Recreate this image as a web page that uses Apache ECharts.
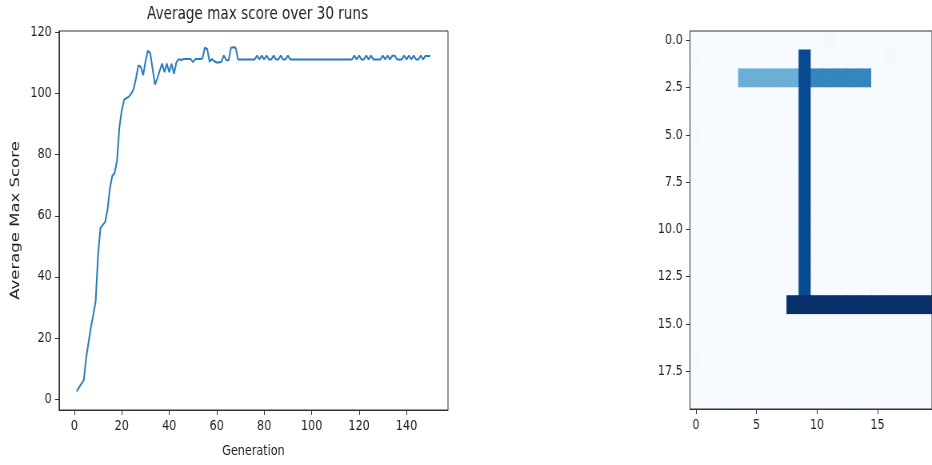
<!DOCTYPE html>
<html>
<head>
<meta charset="utf-8">
<script src="https://cdn.jsdelivr.net/npm/echarts@6/dist/echarts.min.js"></script>
<style>
  html, body { margin: 0; padding: 0; background: #fff; overflow: hidden; }
  #wrap { width: 932px; height: 465px; overflow: hidden; }
  /* the figure is laid out wide and narrowed horizontally */
  #chart { width: 1165px; height: 465px; transform: scaleX(0.8); transform-origin: 0 0; }
</style>
</head>
<body>
<div id="wrap"><div id="chart"></div></div>
<script>
// ---- learning curve: average max score per generation (generations 1..150)
const scores = [
  2.5, 3.8, 5.0, 6.2, 13.5, 18.5, 23.5, 27.5, 32, 47,
  56, 57, 58, 62, 69, 73, 74, 78, 89, 94.5,
  98, 98.5, 99, 100, 101.5, 105, 109.2, 108.8, 106, 110.5,
  114, 113.2, 108, 103, 105, 107.5, 109.8, 107, 109.8, 107,
  109.8, 106.5, 110.2, 111.3, 111, 111.3, 111.3, 111.3, 111.3, 110.3,
  111.3, 111.3, 111.3, 111.5, 115, 114.6, 110.4, 111.3, 110.6, 110.2,
  110.2, 110.4, 112.5, 111, 110.8, 115, 115.2, 115, 111.2, 111.2,
  111.2, 111.2, 111.2, 111.2, 111.2, 111.2, 112.4, 111.2, 112.4, 111.2,
  112.4, 111.2, 111.2, 112.4, 111.2, 111.2, 112.4, 111.2, 111.2, 112.4,
  111.2, 111.2, 111.2, 111.2, 111.2, 111.2, 111.2, 111.2, 111.2, 111.2,
  111.2, 111.2, 111.2, 111.2, 111.2, 111.2, 111.2, 111.2, 111.2, 111.2,
  111.2, 111.2, 111.2, 111.2, 111.2, 111.2, 111.2, 112.4, 111.2, 112.4,
  111.2, 111.2, 112.4, 111.2, 112.4, 111.2, 111.2, 111.2, 111.2, 112.4,
  111.2, 112.4, 111.2, 112.4, 112.4, 111.2, 111.2, 111.2, 112.4, 111.2,
  112.4, 111.2, 112.4, 111.2, 111.2, 112.4, 111.2, 112.4, 112.2, 112.4
];
const generations = scores.map((_, i) => i + 1);
const scoreTicks = [0, 20, 40, 60, 80, 100, 120];
const generationTicks = [0, 20, 40, 60, 80, 100, 120, 140];

// ---- 20x20 board: one character per cell
const cellLevels = { '.': 0, '1': 0.8, '2': 1.6, 'a': 50, 'b': 67.5, 'c': 90, 'd': 100 };
const boardRows = [
  '..1....1...2....1..1',
  '1........c......2...',
  '....aaaaacbbbbb.....',
  '..1.....1c.....1....',
  '.....1...c...1....1.',
  '1........c.....1....',
  '...1..1..c..........',
  '.......1.c.1....1...',
  '.1.......c......1..1',
  '....1....c..1.......',
  '..1......c....1..1..',
  '.........c..........',
  '.....1...c...1......',
  '..1......c.....1....',
  '........dddddddddddd',
  '..1..1.........1....',
  '.........1......1...',
  '1...1.....1.........',
  '......1.......1..1..',
  '...1.........1......'
];
const boardRowTicks = [0, 2.5, 5, 7.5, 10, 12.5, 15, 17.5];
const boardColTicks = [0, 5, 10, 15];
const blues = ['#f7fbff', '#deebf7', '#c6dbef', '#9ecae1', '#6baed6', '#4292c6', '#2171b5', '#08519c', '#08306b'];

const boardCells = [];
boardRows.forEach((row, r) => {
  row.split('').forEach((ch, c) => boardCells.push([c, r, cellLevels[ch]]));
});

const FONT = 'DejaVu Sans';
const tickText = { fontFamily: FONT, fontSize: 14, color: '#222', margin: 9 };
const axisDark = { show: true, onZero: false, lineStyle: { color: '#333', width: 1 } };
const tickDark = { show: true, length: 5, lineStyle: { color: '#333' } };

const chart = echarts.init(document.getElementById('chart'), null, { renderer: 'canvas' });
chart.setOption({
  animation: false,
  backgroundColor: '#fff',
  title: {
    text: 'Average max score over 30 runs',
    left: 317, top: 1, textAlign: 'center',
    textStyle: { fontFamily: FONT, fontSize: 17, fontWeight: 'normal', color: '#222' }
  },
  grid: [
    { left: 73.75, top: 31, width: 486.25, height: 379, show: true, borderColor: '#333', borderWidth: 1, z: 5 },
    { left: 862.5, top: 31, width: 315, height: 378, show: true, borderColor: '#333', borderWidth: 1, z: 5 }
  ],
  xAxis: [
    {
      gridIndex: 0, type: 'value', min: -6.45, max: 157.45,
      name: 'Generation', nameLocation: 'middle', nameGap: 34,
      nameTextStyle: { fontFamily: FONT, fontSize: 14, color: '#222' },
      axisLine: axisDark,
      axisTick: Object.assign({ customValues: generationTicks }, tickDark),
      axisLabel: Object.assign({ customValues: generationTicks }, tickText),
      splitLine: { show: false }
    },
    {
      gridIndex: 1, type: 'value', min: -0.5, max: 19.5,
      axisLine: axisDark,
      axisTick: Object.assign({ customValues: boardColTicks }, tickDark),
      axisLabel: Object.assign({ customValues: boardColTicks }, tickText),
      splitLine: { show: false }, z: 5
    }
  ],
  yAxis: [
    {
      gridIndex: 0, type: 'value', min: -3.6, max: 120.5,
      name: 'Average Max Score', nameLocation: 'middle', nameGap: 46, nameRotate: 90,
      nameTextStyle: { fontFamily: FONT, fontSize: 16.5, color: '#222' },
      axisLine: axisDark,
      axisTick: Object.assign({ customValues: scoreTicks }, tickDark),
      axisLabel: Object.assign({ customValues: scoreTicks }, tickText),
      splitLine: { show: false }
    },
    {
      gridIndex: 1, type: 'value', min: -0.5, max: 19.5, inverse: true,
      axisLine: axisDark,
      axisTick: Object.assign({ customValues: boardRowTicks }, tickDark),
      axisLabel: Object.assign({
        customValues: boardRowTicks,
        formatter: v => Number(v).toFixed(1)
      }, tickText),
      splitLine: { show: false }, z: 5
    }
  ],
  visualMap: {
    show: false, type: 'continuous', seriesIndex: 1, dimension: 2,
    min: 0, max: 100, inRange: { color: blues }
  },
  series: [
    {
      type: 'line', xAxisIndex: 0, yAxisIndex: 0,
      data: generations.map((g, i) => [g, scores[i]]),
      showSymbol: false, symbol: 'none',
      lineStyle: { color: '#2b7cba', width: 2 },
      z: 2
    },
    {
      type: 'custom', xAxisIndex: 1, yAxisIndex: 1, clip: true,
      data: boardCells,
      renderItem: (params, api) => {
        const c = api.value(0), r = api.value(1);
        const p0 = api.coord([c - 0.5, r - 0.5]);
        const p1 = api.coord([c + 0.5, r + 0.5]);
        // cells overlap by a fraction of a pixel so no seams show between them
        return {
          type: 'rect',
          shape: {
            x: Math.min(p0[0], p1[0]) - 0.4, y: Math.min(p0[1], p1[1]) - 0.4,
            width: Math.abs(p1[0] - p0[0]) + 0.8, height: Math.abs(p1[1] - p0[1]) + 0.8
          },
          style: { fill: api.visual('color'), stroke: 'none', lineWidth: 0 }
        };
      },
      z: 1
    }
  ]
});
</script>
</body>
</html>
